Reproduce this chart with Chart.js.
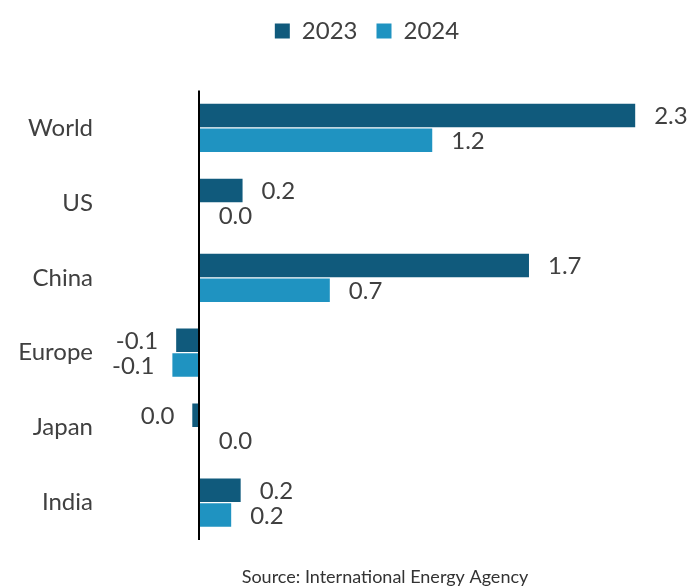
<!DOCTYPE html>
<html>
<head>
<meta charset="utf-8">
<script src="https://cdn.jsdelivr.net/npm/chart.js@4"></script>
<style>
  html, body { margin: 0; padding: 0; background: #ffffff; }
  #wrap { width: 694px; height: 587px; position: relative; }
</style>
</head>
<body>
<div id="wrap"><canvas id="c"></canvas></div>
<script>
const categories = ['World', 'US', 'China', 'Europe', 'Japan', 'India'];
const seriesNames = ['2023', '2024'];
const values2023 = [2.3, 0.23, 1.74, -0.12, -0.035, 0.22];
const values2024 = [1.23, 0.004, 0.69, -0.14, 0.004, 0.17];
const sourceText = 'Source: International Energy Agency';

const TEXT = '#404040';
const FONT = 'Lato, "Open Sans", sans-serif';

function fmt(v) {
  const r = Math.round(v * 10) / 10;
  let s = r.toFixed(1);
  if (s === '-0.0') s = '0.0';
  return s;
}

const legendGap = {
  id: 'legendGap',
  beforeInit(chart) {
    const fit = chart.legend.fit;
    chart.legend.fit = function () {
      fit.bind(this)();
      this.height += 37.5;
    };
  },
  beforeDraw(chart) {
    chart.legend.left += 40;
  }
};

const zeroLine = {
  id: 'zeroLine',
  afterDatasetsDraw(chart) {
    const { ctx, chartArea, scales } = chart;
    const x = Math.round(scales.x.getPixelForValue(0));
    ctx.save();
    ctx.strokeStyle = '#000000';
    ctx.lineWidth = 2;
    ctx.beginPath();
    ctx.moveTo(x, chartArea.top);
    ctx.lineTo(x, chartArea.bottom);
    ctx.stroke();
    ctx.restore();
  }
};

const valueLabels = {
  id: 'valueLabels',
  afterDraw(chart) {
    const { ctx, scales } = chart;
    const zero = scales.x.getPixelForValue(0);
    ctx.save();
    ctx.font = '24px ' + FONT;
    ctx.fillStyle = TEXT;
    ctx.textBaseline = 'middle';
    chart.data.datasets.forEach((ds, di) => {
      const meta = chart.getDatasetMeta(di);
      meta.data.forEach((bar, i) => {
        const v = ds.data[i];
        const txt = fmt(v);
        if (v < 0) {
          ctx.textAlign = 'right';
          ctx.fillText(txt, Math.min(bar.x, zero) - 18, bar.y + 1);
        } else {
          ctx.textAlign = 'left';
          ctx.fillText(txt, Math.max(bar.x, zero) + 19, bar.y + 1);
        }
      });
    });
    ctx.restore();
  }
};

const sourceNote = {
  id: 'sourceNote',
  afterDraw(chart) {
    const { ctx } = chart;
    ctx.save();
    ctx.font = '18px ' + FONT;
    ctx.fillStyle = '#333333';
    ctx.textAlign = 'center';
    ctx.textBaseline = 'middle';
    ctx.fillText(sourceText, 385, 577);
    ctx.restore();
  }
};

new Chart(document.getElementById('c'), {
  type: 'bar',
  data: {
    labels: categories,
    datasets: [
      { label: seriesNames[0], data: values2023, backgroundColor: '#105A7C', borderWidth: 0,
        categoryPercentage: 0.66, barPercentage: 0.95 },
      { label: seriesNames[1], data: values2024, backgroundColor: '#1F93C1', borderWidth: 0,
        categoryPercentage: 0.66, barPercentage: 0.95 }
    ]
  },
  options: {
    indexAxis: 'y',
    responsive: true,
    maintainAspectRatio: false,
    animation: false,
    layout: { padding: { top: 0, left: 0, right: 0, bottom: 47 } },
    scales: {
      x: {
        min: -0.2,
        max: 2.61,
        display: false,
        grid: { display: false }
      },
      y: {
        grid: { display: false, drawTicks: false },
        border: { display: false },
        ticks: { color: TEXT, font: { family: FONT, size: 24 }, padding: 68 },
        afterFit(scale) {
          scale.width = 161;
          scale.paddingTop = 0;
          scale.paddingBottom = 0;
        }
      }
    },
    plugins: {
      legend: {
        position: 'top',
        align: 'center',
        labels: {
          color: TEXT,
          font: { family: FONT, size: 24 },
          boxWidth: 15,
          boxHeight: 15,
          padding: 19
        }
      },
      tooltip: { enabled: false }
    }
  },
  plugins: [legendGap, zeroLine, valueLabels, sourceNote]
});
</script>
</body>
</html>
